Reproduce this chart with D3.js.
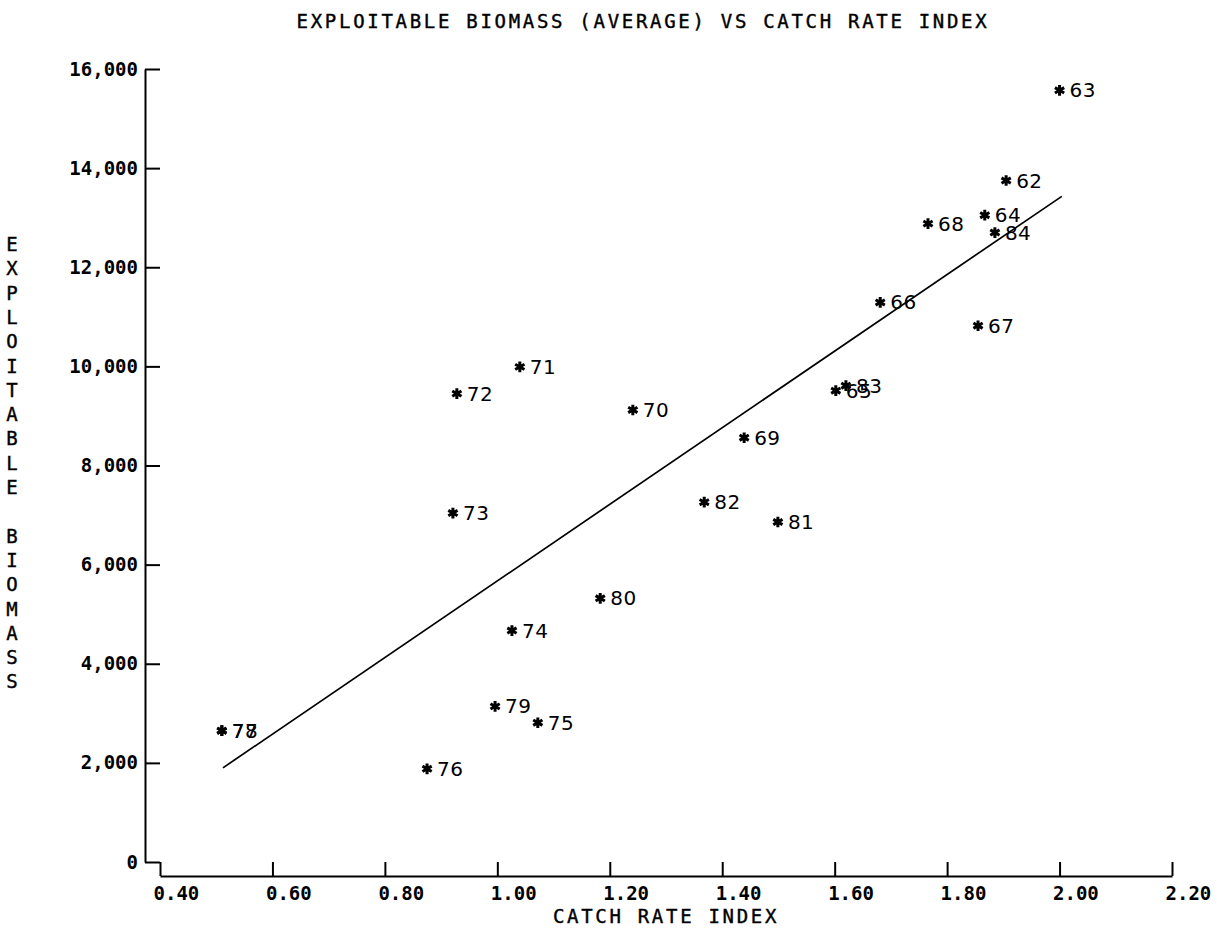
<!DOCTYPE html>
<html>
<head>
<meta charset="utf-8">
<script src="https://cdn.jsdelivr.net/npm/d3@7"></script>
<style>
  body { margin: 0; background: #fff; }
  .tick text { font-family: "DejaVu Sans Mono", monospace; font-weight: bold; font-size: 19px; letter-spacing: 0px; fill: #000; }
  .ttl { font-family: "DejaVu Sans Mono", monospace; font-size: 19px; letter-spacing: 2.7px; fill: #000; stroke: #000; stroke-width: 0.4px; }
  .lbl { font-family: "DejaVu Sans", sans-serif; font-size: 20px; letter-spacing: 0.5px; fill: #000; }
</style>
</head>
<body>
<div id="chart"></div>
<script>
var width = 1226;
var height = 930;

// catch rate index (x), exploitable biomass (y), year label
var years     = ["63", "62", "68", "64", "84", "66", "67", "83", "65", "71", "72",
                 "70", "69", "82", "81", "73", "80", "74", "79", "75", "76", "77", "78"];
var catchRate = [2.00, 1.905, 1.766, 1.867, 1.885, 1.681, 1.855, 1.620, 1.602, 1.040, 0.928,
                 1.241, 1.439, 1.368, 1.499, 0.921, 1.183, 1.026, 0.996, 1.072, 0.875, 0.510, 0.510];
var biomass   = [15570, 13750, 12880, 13050, 12700, 11290, 10820, 9610, 9510, 9990, 9450,
                 9120, 8560, 7260, 6860, 7040, 5320, 4670, 3140, 2810, 1880, 2650, 2650];

// fitted line end points
var fitX = [0.512, 2.004];
var fitY = [1900, 13430];

var xTicks = [0.4, 0.6, 0.8, 1.0, 1.2, 1.4, 1.6, 1.8, 2.0, 2.2];
var yTicks = [0, 2000, 4000, 6000, 8000, 10000, 12000, 14000, 16000];

var yTitle = "EXPLOITABLE BIOMASS";

var svg = d3.select("#chart")
            .append("svg")
            .attr("width", width)
            .attr("height", height);

var x = d3.scaleLinear().domain([0.4, 2.2]).range([160, 1172]);
var y = d3.scaleLinear().domain([0, 16000]).range([862, 69]);

var xAxisY = 876;
var yAxisX = 145;

// axes, ticks pointing inward like the old plotter output
var xAxis = d3.axisBottom(x)
    .tickValues(xTicks)
    .tickSizeInner(-14)
    .tickSizeOuter(0)
    .tickPadding(11)
    .tickFormat(d3.format(".2f"));

var yAxis = d3.axisLeft(y)
    .tickValues(yTicks)
    .tickSizeInner(-15)
    .tickSizeOuter(0)
    .tickPadding(7)
    .tickFormat(d3.format(","));

var gx = svg.append("g")
    .attr("transform", "translate(0," + xAxisY + ")")
    .call(xAxis);
gx.selectAll("text").attr("text-anchor", "start").attr("dx", -7);

var gy = svg.append("g")
    .attr("transform", "translate(" + yAxisX + ",0)")
    .call(yAxis);

svg.selectAll(".domain, .tick line")
    .attr("stroke", "#000")
    .attr("stroke-width", 2);

// fitted line
var line = d3.line()
    .x(function(d){ return x(d[0]); })
    .y(function(d){ return y(d[1]); });

svg.append("path")
    .datum(d3.zip(fitX, fitY))
    .attr("d", line)
    .attr("fill", "none")
    .attr("stroke", "#000")
    .attr("stroke-width", 1.7);

// points
var pts = d3.range(years.length).map(function(i){
    return {year: years[i], x: catchRate[i], y: biomass[i]};
});

var star = d3.symbol().type(d3.symbolAsterisk).size(80);

svg.append("g").selectAll("path")
    .data(pts)
    .enter()
    .append("path")
    .attr("d", star)
    .attr("transform", function(d){ return "translate(" + x(d.x) + "," + y(d.y) + ")"; })
    .attr("fill", "none")
    .attr("stroke", "#000")
    .attr("stroke-width", 3);

svg.append("g").selectAll("text")
    .data(pts)
    .enter()
    .append("text")
    .attr("class", "lbl")
    .attr("x", function(d){ return x(d.x) + 10; })
    .attr("y", function(d){ return y(d.y) + 7; })
    .text(function(d){ return d.year; });

// titles
svg.append("text")
    .attr("class", "ttl")
    .attr("x", 643)
    .attr("y", 28)
    .attr("text-anchor", "middle")
    .text("EXPLOITABLE BIOMASS (AVERAGE) VS CATCH RATE INDEX");

svg.append("text")
    .attr("class", "ttl")
    .attr("x", 666)
    .attr("y", 923)
    .attr("text-anchor", "middle")
    .text("CATCH RATE INDEX");

svg.append("g").selectAll("text")
    .data(yTitle.split(""))
    .enter()
    .append("text")
    .attr("class", "ttl")
    .style("letter-spacing", "0px")
    .attr("x", 12)
    .attr("y", function(d, i){ return 251 + i * 24.3; })
    .attr("text-anchor", "middle")
    .text(function(d){ return d; });
</script>
</body>
</html>
